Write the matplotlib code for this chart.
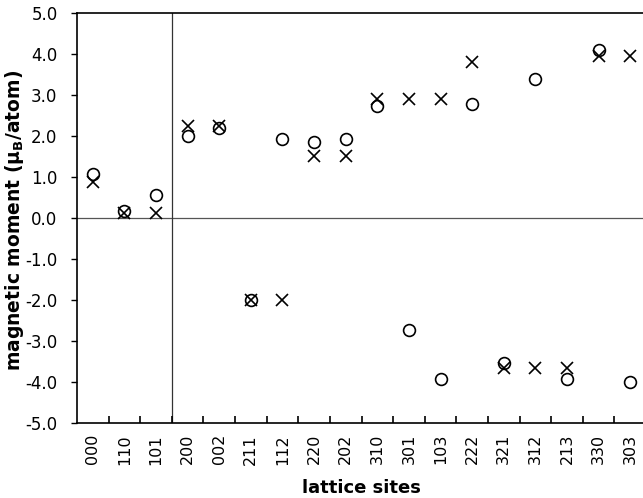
import numpy as np
import matplotlib
matplotlib.use("Agg")
import matplotlib.pyplot as plt

sites = ["000", "110", "101", "200", "002", "211", "112", "220", "202",
         "310", "301", "103", "222", "321", "312", "213", "330", "303"]
circle_vals = [1.08, 0.18, 0.55, 2.00, 2.20, -2.00, 1.92, 1.85, 1.93,
               2.74, -2.73, -3.92, 2.79, -3.54, 3.40, -3.92, 4.10, -4.00]
cross_vals = [0.88, 0.12, 0.12, 2.25, 2.25, -2.00, -2.00, 1.52, 1.52,
              2.91, 2.91, 2.91, 3.80, -3.66, -3.66, -3.66, 3.96, 3.96]

plt.rcParams['font.family'] = ['DejaVu Sans']
plt.rcParams['mathtext.default'] = 'regular'

fig = plt.figure(figsize=(6.43, 4.98), dpi=100)
ax = fig.add_axes([77/643, 75/498, 569/643, 410/498])

x = np.arange(len(sites))
ax.plot(x, circle_vals, linestyle='none', marker='o', markersize=8.5,
        markerfacecolor='none', markeredgecolor='black', markeredgewidth=1.2)
ax.plot(x, cross_vals, linestyle='none', marker='x', markersize=8.5,
        color='black', markeredgewidth=1.2)

ax.axhline(0, color='#555555', linewidth=0.9, zorder=0)
ax.axvline(2.5, color='#333333', linewidth=0.9, zorder=0)

yt = np.arange(-5, 5.1, 1.0)
ax.set_xlim(-0.5, len(sites) - 0.5)
ax.set_ylim(-5, 5)
ax.set_yticks(yt)
ax.set_yticklabels([f"{v:.1f}" for v in yt], fontsize=12)
ax.set_xticks(x)
ax.set_xticklabels(sites, rotation=90, fontsize=11.5)
ax.set_xticks(np.arange(0.5, len(sites) - 0.5, 1.0), minor=True)
ax.tick_params(axis='x', which='major', length=0, pad=8)
ax.tick_params(axis='x', which='minor', direction='in', length=5, width=1.2)
ax.tick_params(axis='y', direction='out', length=4, width=1.0, pad=10)

for s in ['left', 'bottom', 'top']:
    ax.spines[s].set_linewidth(1.2)
ax.spines['right'].set_visible(False)

# axis titles placed by hand to match the original layout
fig.text(15/643, 1 - 220/498, "magnetic moment (μ$_B$/atom)", rotation=90,
         ha='center', va='center', fontsize=13.5, fontweight='bold')
fig.text(361/643, 1 - 488/498, "lattice sites", ha='center', va='center',
         fontsize=13, fontweight='bold')

fig.savefig("out.png", dpi=100)
